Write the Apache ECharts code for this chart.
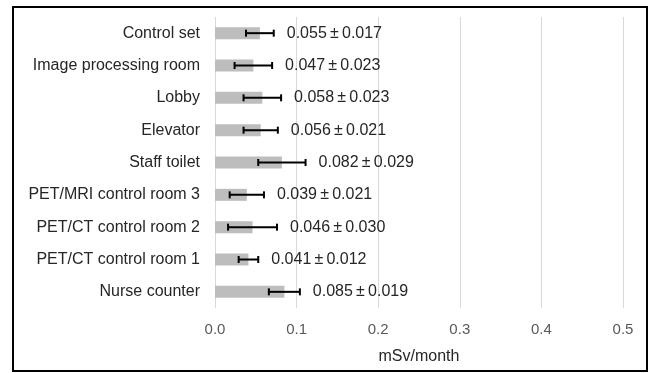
<!DOCTYPE html>
<html lang="en">
<head>
    <meta charset="UTF-8">
    <title>mSv/month</title>
    <script src="https://cdn.jsdelivr.net/npm/echarts@6/dist/echarts.min.js"></script>
    <style>
        body{ margin:0; background:#fff; }
        #main{ width:652px; height:373px; }
    </style>
</head>
<body>
    <div id="main"></div>
    <script>
        // rooms, top to bottom
        var categories = ['Control set', 'Image processing room', 'Lobby', 'Elevator', 'Staff toilet',
            'PET/MRI control room 3', 'PET/CT control room 2', 'PET/CT control room 1', 'Nurse counter'];
        var means = [0.055, 0.047, 0.058, 0.056, 0.082, 0.039, 0.046, 0.041, 0.085];
        var errors = [0.017, 0.023, 0.023, 0.021, 0.029, 0.021, 0.030, 0.012, 0.019];
        var xTicks = [0, 0.1, 0.2, 0.3, 0.4, 0.5];

        var font = 'Liberation Sans, Arial, sans-serif';
        var myChart = echarts.init(document.getElementById('main'));

        var errData = categories.map(function (c, i) {
            return [i, means[i] - errors[i], means[i] + errors[i], means[i], errors[i]];
        });

        var option = {
            animation: false,
            textStyle: { fontFamily: font },
            grid: { left: 215, right: 29, top: 17, bottom: 65 },
            graphic: [{
                type: 'rect',
                shape: { x: 13, y: 7, width: 634, height: 364 },
                style: { fill: 'none', stroke: '#000', lineWidth: 2 },
                silent: true
            }],
            xAxis: {
                type: 'value',
                min: xTicks[0],
                max: xTicks[xTicks.length - 1],
                interval: 0.1,
                axisLine: { show: false },
                axisTick: { show: false },
                axisLabel: {
                    color: '#595959', fontSize: 15, margin: 14,
                    formatter: function (v) { return v.toFixed(1); }
                },
                splitLine: { show: true, lineStyle: { color: '#d9d9d9', width: 1 } },
                name: 'mSv/month',
                nameLocation: 'middle',
                nameGap: 41,
                nameTextStyle: { color: '#262626', fontSize: 16 }
            },
            yAxis: {
                type: 'category',
                data: categories,
                inverse: true,
                axisLine: { show: false },
                axisTick: { show: false },
                axisLabel: { color: '#262626', fontSize: 16, margin: 15 }
            },
            series: [{
                type: 'bar',
                data: means,
                barWidth: 12,
                itemStyle: { color: '#bdbdbd' },
                silent: true
            }, {
                type: 'custom',
                data: errData,
                encode: { x: [1, 2], y: 0 },
                z: 5,
                renderItem: function (params, api) {
                    var i = api.value(0);
                    var p1 = api.coord([api.value(1), i]);
                    var p2 = api.coord([api.value(2), i]);
                    var h = 3.5;
                    var ls = { stroke: '#000', lineWidth: 2 };
                    var txt = api.value(3).toFixed(3) + '\u2009\u00b1\u2009' + api.value(4).toFixed(3);
                    return {
                        type: 'group',
                        children: [
                            { type: 'line', shape: { x1: p1[0], y1: p1[1], x2: p2[0], y2: p2[1] }, style: ls },
                            { type: 'line', shape: { x1: p1[0], y1: p1[1] - h, x2: p1[0], y2: p1[1] + h }, style: ls },
                            { type: 'line', shape: { x1: p2[0], y1: p2[1] - h, x2: p2[0], y2: p2[1] + h }, style: ls },
                            {
                                type: 'text',
                                style: {
                                    text: txt, x: p2[0] + 13, y: p2[1],
                                    align: 'left', verticalAlign: 'middle',
                                    fill: '#262626', fontSize: 16, fontFamily: font
                                }
                            }
                        ]
                    };
                }
            }]
        };
        myChart.setOption(option);
    </script>
</body>
</html>
